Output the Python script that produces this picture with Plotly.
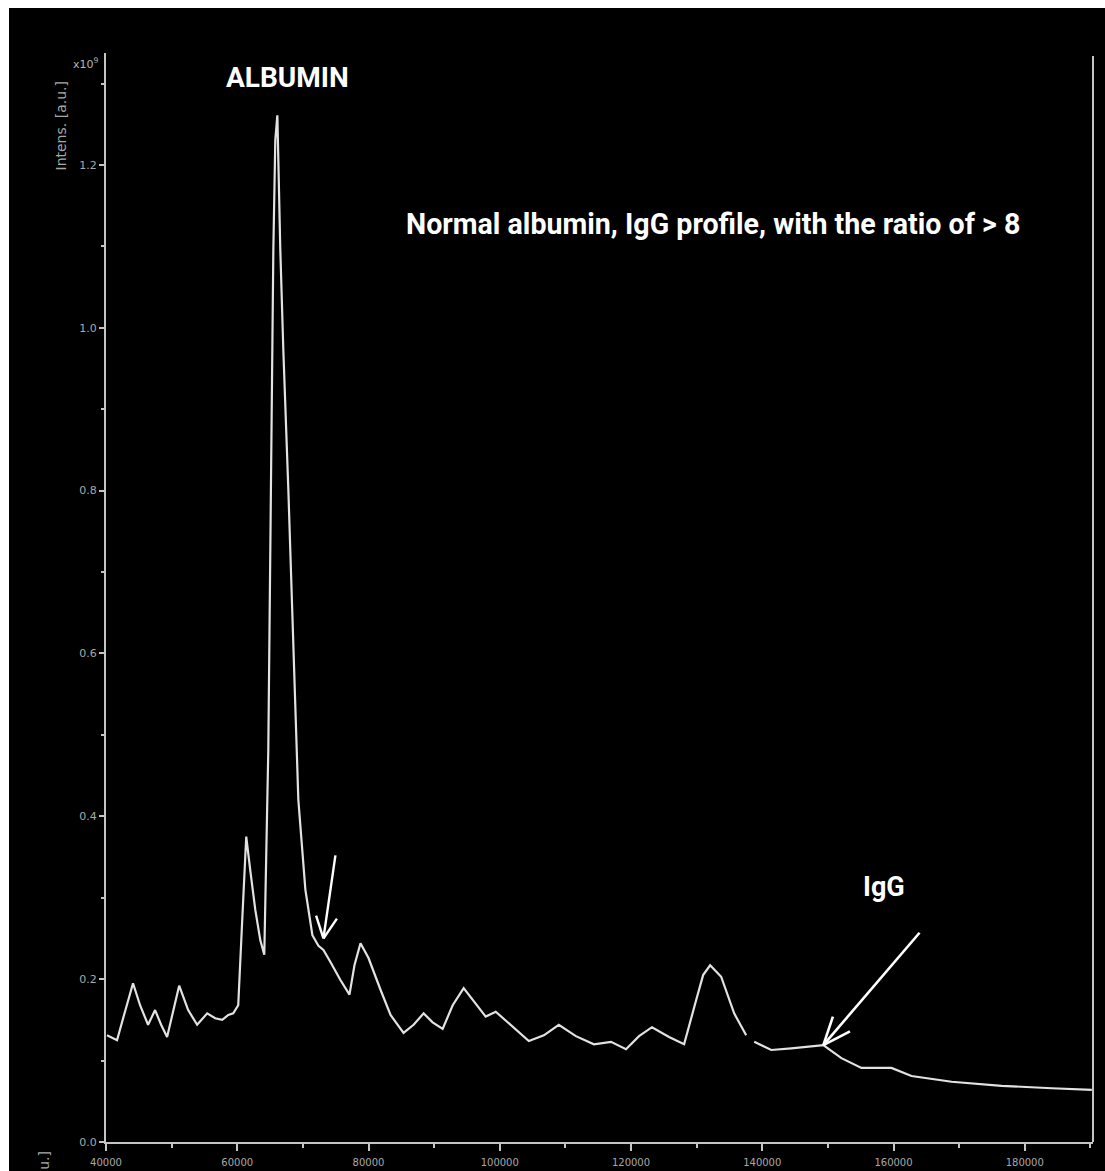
import math
import plotly.graph_objects as go

# MALDI-TOF spectrum: m/z vs intensity (x10^9 a.u.)
mz_a = [40150, 41680, 42750, 44120, 45190, 46410, 47480, 48400, 49310, 50230,
        51150, 52520, 53890, 55420, 56640, 57710, 58630, 59390, 60150, 60760,
        61370, 61980, 62750, 63510, 64120, 64730, 65190, 65500, 65800, 66110,
        66560, 67020, 67790, 68550, 69310, 70380, 71450, 72370, 73130, 74200,
        75720, 77100, 77860, 78780, 80000, 81830, 83360, 85340, 86870, 88400,
        89770, 91300, 92830, 94500, 96180, 97860, 99390, 101680, 104430, 106720,
        109000, 111600, 114350, 116950, 119240, 121220, 123200, 125800, 128090,
        129920, 130990, 132060, 133740, 135720, 137550]
int_a = [0.131, 0.125, 0.156, 0.195, 0.168, 0.144, 0.162, 0.144, 0.129, 0.162,
         0.192, 0.162, 0.144, 0.158, 0.152, 0.150, 0.156, 0.158, 0.168, 0.273,
         0.375, 0.334, 0.285, 0.248, 0.230, 0.481, 0.850, 1.096, 1.231, 1.261,
         1.096, 0.973, 0.800, 0.604, 0.420, 0.310, 0.254, 0.241, 0.236, 0.221,
         0.199, 0.181, 0.217, 0.244, 0.226, 0.187, 0.156, 0.134, 0.144, 0.158,
         0.147, 0.139, 0.168, 0.189, 0.171, 0.154, 0.160, 0.144, 0.124, 0.131,
         0.144, 0.130, 0.120, 0.123, 0.114, 0.130, 0.141, 0.129, 0.120, 0.174,
         0.205, 0.217, 0.203, 0.158, 0.131]

mz_b = [138780, 141370, 144430, 146720, 149310, 152060, 155110, 159690,
        162740, 168850, 176480, 184110, 190220]
int_b = [0.123, 0.113, 0.115, 0.117, 0.119, 0.103, 0.091, 0.091,
         0.081, 0.074, 0.069, 0.066, 0.064]

x_ticks = [40000, 60000, 80000, 100000, 120000, 140000, 160000, 180000]
y_ticks = [0.0, 0.2, 0.4, 0.6, 0.8, 1.0, 1.2]

# arrow tips and tails, data coordinates
albumin_shoulder = (73130, 0.250)
albumin_tail = (74960, 0.352)
igg_tip = (149310, 0.119)
igg_tail = (163970, 0.257)

X_RANGE = [40000, 190400]
Y_RANGE = [0, 1.3375]

W, H = 1105, 1171
L, R, T, B = 106, 12, 53, 29
pw, ph = W - L - R, H - T - B


def px(xp):
    return (xp - L) / pw


def py(yp):
    return (H - B - yp) / ph


def to_screen(x, y):
    sx = L + (x - X_RANGE[0]) / (X_RANGE[1] - X_RANGE[0]) * pw
    sy = (H - B) - (y - Y_RANGE[0]) / (Y_RANGE[1] - Y_RANGE[0]) * ph
    return sx, sy


def to_data(sx, sy):
    x = X_RANGE[0] + (sx - L) / pw * (X_RANGE[1] - X_RANGE[0])
    y = Y_RANGE[0] + ((H - B) - sy) / ph * (Y_RANGE[1] - Y_RANGE[0])
    return x, y


line_col = "#e2e2e2"
axis_col = "#c4c4c4"
tick_col = "#a8a8a8"
label_font = "Roboto, Liberation Sans, sans-serif"


def arrow_shapes(tip, tail, wing_len, width, spread=26):
    """Shaft plus two open V wings, drawn as line shapes in data space."""
    tx, ty = to_screen(*tip)
    bx, by = to_screen(*tail)
    ang = math.atan2(by - ty, bx - tx)
    out = [dict(type="line", xref="x", yref="y", x0=tail[0], y0=tail[1],
                x1=tip[0], y1=tip[1], line=dict(color="white", width=width))]
    for s in (-1, 1):
        a = ang + s * math.radians(spread)
        wx, wy = to_data(tx + wing_len * math.cos(a), ty + wing_len * math.sin(a))
        out.append(dict(type="line", xref="x", yref="y", x0=tip[0], y0=tip[1],
                        x1=wx, y1=wy, line=dict(color="white", width=width)))
    return out


fig = go.Figure()
fig.add_trace(go.Scatter(
    x=mz_a + [None] + mz_b,
    y=int_a + [None] + int_b,
    mode="lines",
    line=dict(color=line_col, width=2.2),
    connectgaps=False,
    hoverinfo="skip",
    showlegend=False,
))

annotations = [
    dict(x=67630, y=1.308, xref="x", yref="y", text="ALBUMIN", showarrow=False,
         font=dict(family=label_font, size=28, color="white", weight=700)),
    dict(x=132520, y=1.127, xref="x", yref="y",
         text="Normal albumin, IgG profile, with the ratio of > 8", showarrow=False,
         font=dict(family=label_font, size=28.6, color="white", weight=700)),
    dict(x=158620, y=0.313, xref="x", yref="y", text="IgG", showarrow=False,
         font=dict(family=label_font, size=27, color="white", weight=700)),
    dict(x=px(101), y=py(63), xref="paper", yref="paper", text="x10<sup>9</sup>",
         xanchor="right", yanchor="middle", showarrow=False,
         font=dict(family="DejaVu Sans", size=11, color="#b4b4b4")),
    dict(x=px(50), y=py(80), xref="paper", yref="paper", text="Intens. [a.u.]",
         textangle=-90, showarrow=False,
         font=dict(family="DejaVu Sans", size=14, color=tick_col)),
    dict(x=px(33), y=py(1150), xref="paper", yref="paper", text="Intens. [a.u.]",
         textangle=-90, showarrow=False, yanchor="top",
         font=dict(family="DejaVu Sans", size=14, color=tick_col)),
]

shapes = [
    # dark photo backdrop, leaving a thin light edge at top and left
    dict(type="rect", xref="paper", yref="paper", x0=px(9), x1=px(W + 5),
         y0=py(H + 5), y1=py(8), fillcolor="black", line=dict(width=0), layer="below"),
    # right frame line
    dict(type="line", xref="paper", yref="paper", x0=1, x1=1, y0=0, y1=py(56),
         line=dict(color=axis_col, width=2)),
]
shapes += arrow_shapes(albumin_shoulder, albumin_tail, 24, 2.4)
shapes += arrow_shapes(igg_tip, igg_tail, 30, 2.6, spread=22)

fig.update_layout(
    width=W, height=H,
    margin=dict(l=L, r=R, t=T, b=B),
    paper_bgcolor="white",
    plot_bgcolor="black",
    annotations=annotations,
    shapes=shapes,
    showlegend=False,
)

fig.update_xaxes(
    range=X_RANGE, automargin=False,
    tickvals=x_ticks, ticktext=[str(v) for v in x_ticks],
    showgrid=False, zeroline=False,
    showline=True, linecolor=axis_col, linewidth=2,
    ticks="outside", ticklen=7, tickwidth=2, tickcolor=axis_col,
    ticklabelstandoff=3,
    minor=dict(dtick=10000, tick0=40000, ticks="outside", ticklen=4, tickwidth=2, tickcolor=axis_col),
    tickfont=dict(family="DejaVu Sans", size=10, color=tick_col),
)
fig.update_yaxes(
    range=Y_RANGE, automargin=False,
    tickvals=y_ticks, ticktext=[f"{v:.1f}" for v in y_ticks],
    showgrid=False, zeroline=False,
    showline=True, linecolor=axis_col, linewidth=2,
    ticks="outside", ticklen=5, tickwidth=2, tickcolor=axis_col,
    minor=dict(dtick=0.1, tick0=0, ticks="outside", ticklen=3, tickwidth=2, tickcolor=axis_col),
    tickfont=dict(family="DejaVu Sans", size=11, color=tick_col),
)

fig.write_html("out.html")
